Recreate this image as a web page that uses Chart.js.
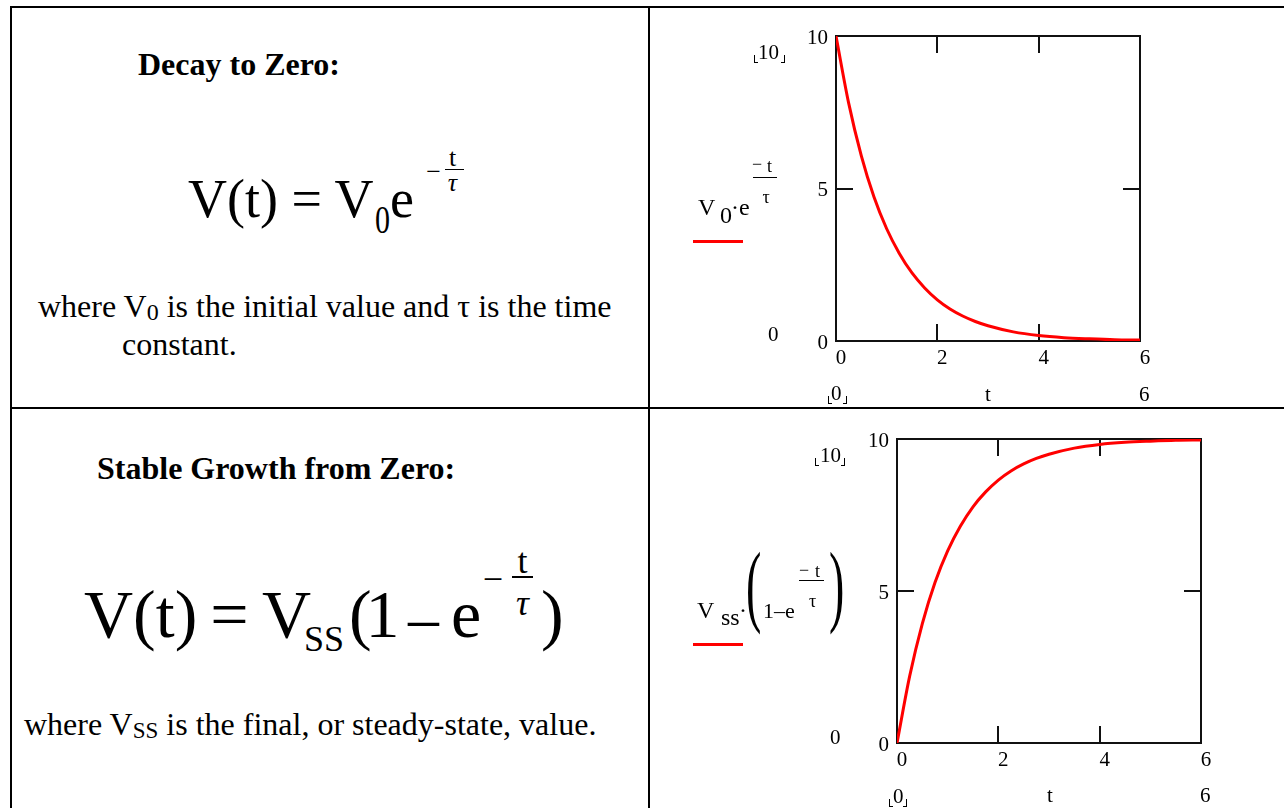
<!DOCTYPE html>
<html>
<head>
<meta charset="utf-8">
<script src="https://cdn.jsdelivr.net/npm/chart.js@4"></script>
<style>
  body { margin: 0; background: #fff; }
  #page { position: relative; width: 1284px; height: 808px; overflow: hidden; background: #fff;
          font-family: "Liberation Serif", "Times New Roman", serif; color: #000; }
  .rule { position: absolute; background: #000; }
  .t { position: absolute; line-height: 1; white-space: nowrap; }
  .b { font-weight: bold; }
  .i { font-style: italic; }
  .sub { position: relative; font-size: 0.75em; top: 0.1em; }
  .bar { position: absolute; background: #000; height: 1px; }
  .key { position: absolute; background: #ff0000; height: 3px; width: 50px; left: 693px; }
  .cl, .cr { position: absolute; width: 3px; height: 7px; border-bottom: 1px solid #000; }
  .cl { border-left: 1px solid #000; }
  .cr { border-right: 1px solid #000; }
  canvas { position: absolute; left: 650px; }
</style>
</head>
<body>
<div id="page">
  <!-- table rules -->
  <div class="rule" style="left:10px;top:6px;width:1274px;height:2px"></div>
  <div class="rule" style="left:10px;top:6px;width:2px;height:802px"></div>
  <div class="rule" style="left:648px;top:6px;width:2px;height:802px"></div>
  <div class="rule" style="left:10px;top:407px;width:1274px;height:2px"></div>

  <!-- top left cell -->
  <span class="t b" data-x="138" data-y="75" data-f="32">Decay to Zero:</span>
  <span class="t" data-x="188" data-y="217" data-f="54">V(t) = V</span>
  <span class="t" data-x="375" data-y="233" data-f="40" data-sx="0.75">0</span>
  <span class="t" data-x="390" data-y="217" data-f="54">e</span>
  <span class="t" data-x="433.5" data-y="181" data-f="26" data-c="1">&minus;</span>
  <span class="t" data-x="452.5" data-y="167" data-f="26" data-c="1">t</span>
  <div class="bar" style="left:445px;top:168.5px;width:19px"></div>
  <span class="t i" data-x="452.5" data-y="192" data-f="26" data-c="1">&tau;</span>
  <span class="t" data-x="38" data-y="317" data-f="32">where V<span class="sub">0</span> is the initial value and &tau; is the time</span>
  <span class="t" data-x="122" data-y="355" data-f="32">constant.</span>

  <!-- bottom left cell -->
  <span class="t b" data-x="97" data-y="479" data-f="32">Stable Growth from Zero:</span>
  <span class="t" data-x="84" data-y="637" data-f="68">V(t)</span>
  <span class="t" data-x="229.5" data-y="637" data-f="68" data-c="1">=</span>
  <span class="t" data-x="262" data-y="637" data-f="68">V</span>
  <span class="t" data-x="304" data-y="651" data-f="36">SS</span>
  <span class="t" data-x="349" data-y="637" data-f="68">(</span>
  <span class="t" data-x="365.5" data-y="637" data-f="68">1</span>
  <span class="t" data-x="423.5" data-y="647" data-f="68" data-c="1">&minus;</span>
  <span class="t" data-x="451" data-y="637" data-f="68">e</span>
  <span class="t" data-x="493" data-y="591" data-f="36" data-c="1">&minus;</span>
  <span class="t" data-x="522.5" data-y="573" data-f="36" data-c="1">t</span>
  <div class="bar" style="left:512px;top:576px;width:21px;height:2px"></div>
  <span class="t i" data-x="522.5" data-y="615" data-f="36" data-c="1">&tau;</span>
  <span class="t" data-x="541" data-y="637" data-f="68">)</span>
  <span class="t" data-x="24" data-y="735" data-f="32">where V<span class="sub" style="font-size:0.72em;top:0.12em">SS</span> is the final, or steady-state, value.</span>

  <!-- decay plot -->
  <canvas id="decayChart" width="634" height="398" style="top:8px"></canvas>
  <span class="t" data-x="698" data-y="215" data-f="24">V</span>
  <span class="t" data-x="720" data-y="223" data-f="24">0</span>
  <span class="t" data-x="731" data-y="215" data-f="24">&middot;e</span>
  <span class="t" data-x="752" data-y="170.5" data-f="18">&minus;</span>
  <span class="t" data-x="767" data-y="172" data-f="18">t</span>
  <div class="bar" style="left:753px;top:177px;width:24px"></div>
  <span class="t" data-x="766" data-y="203" data-f="18" data-c="1">&tau;</span>
  <div class="key" style="top:240px"></div>
  <div class="cl" style="left:754px;top:55px"></div>
  <span class="t" data-x="758" data-y="60" data-f="21">10</span>
  <div class="cr" style="left:781px;top:55px"></div>
  <span class="t" data-x="768" data-y="342" data-f="21">0</span>
  <div class="cl" style="left:828px;top:396px"></div>
  <span class="t" data-x="831" data-y="401" data-f="21">0</span>
  <div class="cr" style="left:843px;top:396px"></div>
  <span class="t" data-x="985" data-y="402" data-f="21">t</span>
  <span class="t" data-x="1139" data-y="402" data-f="21">6</span>

  <!-- growth plot -->
  <canvas id="growthChart" width="634" height="398" style="top:410px"></canvas>
  <span class="t" data-x="697" data-y="618" data-f="24">V</span>
  <span class="t" data-x="721" data-y="625" data-f="24">ss</span>
  <span class="t" data-x="739" data-y="618" data-f="24">&middot;</span>
  <span class="t" data-x="746" data-y="615" data-f="92" data-sx="0.5">(</span>
  <span class="t" data-x="763" data-y="618" data-f="22">1&ndash;e</span>
  <span class="t" data-x="799" data-y="576" data-f="18">&minus;</span>
  <span class="t" data-x="815" data-y="577" data-f="18">t</span>
  <div class="bar" style="left:799px;top:580px;width:25px"></div>
  <span class="t" data-x="812.5" data-y="607" data-f="18" data-c="1">&tau;</span>
  <span class="t" data-x="829" data-y="615" data-f="92" data-sx="0.5">)</span>
  <div class="key" style="top:643px"></div>
  <div class="cl" style="left:815px;top:458px"></div>
  <span class="t" data-x="820" data-y="463" data-f="21">10</span>
  <div class="cr" style="left:841px;top:458px"></div>
  <span class="t" data-x="830" data-y="745" data-f="21">0</span>
  <div class="cl" style="left:889px;top:799px"></div>
  <span class="t" data-x="893" data-y="804" data-f="21">0</span>
  <div class="cr" style="left:903px;top:799px"></div>
  <span class="t" data-x="1047" data-y="803" data-f="21">t</span>
  <span class="t" data-x="1200" data-y="803" data-f="21">6</span>
</div>

<script>
// sampled curve values, t in units of tau
const tValues      = [0, 0.25, 0.5, 0.75, 1, 1.25, 1.5, 1.75, 2, 2.25, 2.5, 2.75, 3, 3.5, 4, 4.5, 5, 5.5, 6];
const decayValues  = [10, 7.8, 6.07, 4.72, 3.68, 2.87, 2.23, 1.74, 1.35, 1.05, 0.82, 0.64, 0.5, 0.3, 0.18, 0.11, 0.07, 0.04, 0.03];
const growthValues = [0, 2.2, 3.93, 5.28, 6.32, 7.13, 7.77, 8.26, 8.65, 8.95, 9.18, 9.36, 9.5, 9.7, 9.82, 9.89, 9.93, 9.96, 9.97];
const xTicks = [0, 2, 4, 6];
const yTicks = [0, 5, 10];

// place text by baseline (Liberation Serif: baseline sits 0.8375em below the top at line-height 1)
document.querySelectorAll('.t').forEach(el => {
  const f = +el.dataset.f;
  el.style.fontSize = f + 'px';
  el.style.left = el.dataset.x + 'px';
  el.style.top = (el.dataset.y - 0.8375 * f) + 'px';
  const tr = [];
  if (el.dataset.c) tr.push('translateX(-50%)');
  if (el.dataset.sx) tr.push('scaleX(' + el.dataset.sx + ')');
  if (tr.length) { el.style.transform = tr.join(' '); el.style.transformOrigin = 'left top'; }
});

Chart.defaults.font.family = '"Liberation Serif", "Times New Roman", serif';
Chart.defaults.font.size = 21;
Chart.defaults.color = '#000';

// box around the plot with inward tick marks on all four sides
const frame = {
  id: 'frame',
  beforeDatasetsDraw(chart) {
    const { ctx, chartArea: a, scales: { x, y } } = chart;
    const len = 17;
    ctx.save();
    ctx.strokeStyle = '#111';
    ctx.lineWidth = 2;
    ctx.strokeRect(a.left, a.top, a.width, a.height);
    ctx.beginPath();
    x.ticks.forEach(tk => {
      if (tk.value <= x.min || tk.value >= x.max) return;
      const px = Math.round(x.getPixelForValue(tk.value));
      ctx.moveTo(px, a.top); ctx.lineTo(px, a.top + len);
      ctx.moveTo(px, a.bottom); ctx.lineTo(px, a.bottom - len);
    });
    y.ticks.forEach(tk => {
      if (tk.value <= y.min || tk.value >= y.max) return;
      const py = Math.round(y.getPixelForValue(tk.value));
      ctx.moveTo(a.left, py); ctx.lineTo(a.left + len, py);
      ctx.moveTo(a.right, py); ctx.lineTo(a.right - len, py);
    });
    ctx.stroke();
    ctx.restore();
  }
};

function makePlot(id, values, padding) {
  return new Chart(document.getElementById(id), {
    type: 'line',
    data: {
      datasets: [{
        data: tValues.map((t, i) => ({ x: t, y: values[i] })),
        borderColor: '#ff0000',
        borderWidth: 3,
        pointRadius: 0,
        cubicInterpolationMode: 'monotone',
        fill: false
      }]
    },
    options: {
      responsive: false,
      animation: false,
      events: [],
      layout: { padding: padding },
      plugins: { legend: { display: false }, tooltip: { enabled: false } },
      scales: {
        x: {
          type: 'linear', min: 0, max: 6,
          afterBuildTicks: s => { s.ticks = xTicks.map(v => ({ value: v })); },
          afterFit: s => { s.height = 30; },
          ticks: { padding: 5, labelOffset: 5, maxRotation: 0, autoSkip: false },
          grid: { display: false, drawTicks: false },
          border: { display: false }
        },
        y: {
          type: 'linear', min: 0, max: 10,
          afterBuildTicks: s => { s.ticks = yTicks.map(v => ({ value: v })); },
          afterFit: s => { s.width = 44; },
          ticks: { padding: 8, labelOffset: 2, autoSkip: false },
          grid: { display: false, drawTicks: false },
          border: { display: false }
        }
      }
    },
    plugins: [frame]
  });
}

makePlot('decayChart', decayValues, { left: 142, right: 144, top: 28, bottom: 35 });
makePlot('growthChart', growthValues, { left: 203, right: 83, top: 29, bottom: 35 });
</script>
</body>
</html>
